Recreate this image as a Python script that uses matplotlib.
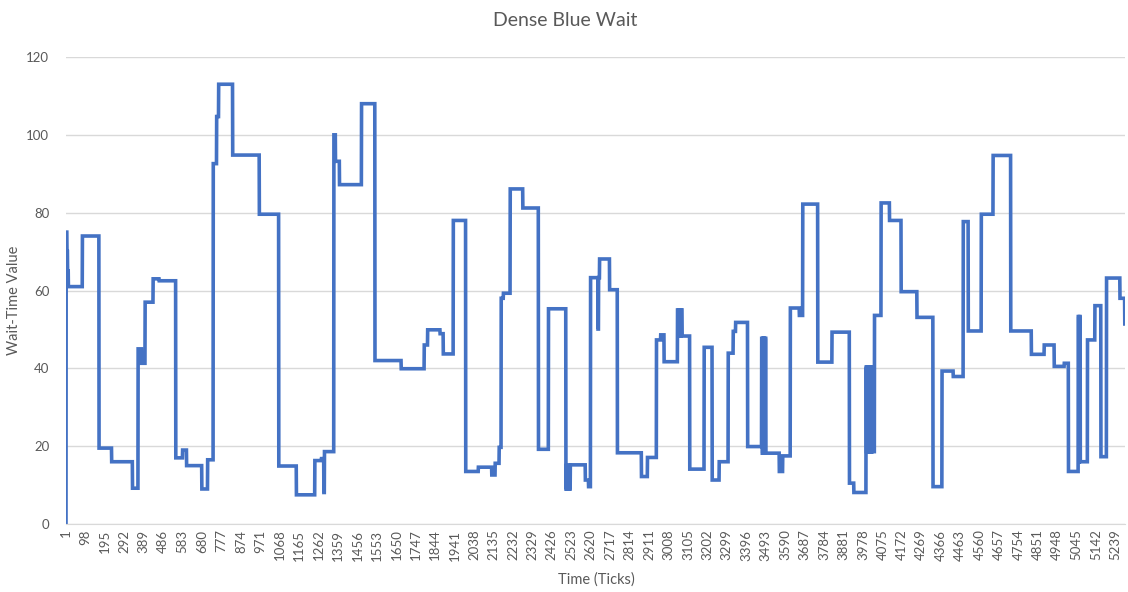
import numpy as np
import matplotlib
matplotlib.use("Agg")
import matplotlib.pyplot as plt

plt.rcParams['font.family'] = ['Lato', 'DejaVu Sans']

# Wait-time series stored as steps: each value holds from its start tick
# until the next start tick.
n_ticks = 5286
step_start = [
    1, 2, 6, 9, 13, 83, 166, 229, 333, 361, 378, 396, 436, 466, 549, 583, 603,
    679, 708, 736, 753, 763, 833, 966, 1063, 1151, 1243, 1276, 1288, 1291,
    1338, 1346, 1366, 1476, 1543, 1674, 1789, 1806, 1868, 1884, 1934, 1996,
    2059, 2126, 2143, 2163, 2173, 2184, 2218, 2281, 2359, 2409,
    2496, 2499, 2502, 2505, 2508, 2511, 2514,
    2518, 2593, 2609, 2619, 2656, 2659, 2664, 2714, 2753, 2873, 2903, 2948,
    2969, 2986,
    3053, 3056, 3059, 3062, 3065, 3068, 3071,
    3076, 3114, 3186, 3226, 3261, 3306, 3331, 3343, 3403,
    3473, 3476, 3479, 3482, 3485, 3488, 3491, 3494,
    3499, 3561, 3578, 3616, 3661, 3678, 3753, 3824, 3911, 3933,
    3994, 3997, 4000, 4003, 4006, 4009, 4012, 4015, 4018, 4021, 4024, 4027, 4030,
    4036, 4069, 4111, 4169, 4248, 4328, 4373, 4429, 4479, 4504, 4569, 4628,
    4716, 4819, 4883, 4933, 4983, 5004,
    5053, 5056, 5059,
    5063, 5099, 5136, 5166, 5194, 5261, 5285,
]
step_value = [
    0, 75, 70, 65, 61, 74, 19.5, 16, 9.2, 45, 41.3, 57, 63, 62.5, 17, 19, 15,
    9, 16.5, 92.6, 104.7, 113, 94.8, 79.6, 14.9, 7.5, 16.3, 16.8, 8.1, 18.6,
    100, 93.2, 87.2, 108, 42, 39.9, 46, 49.9, 48.9, 43.7, 78, 13.5,
    14.6, 12.6, 15.6, 19.7, 58, 59.3, 86.1, 81.2, 19.2, 55.3,
    9, 15, 9, 15, 9, 15, 9,
    15.2, 11.3, 9.6, 63.3, 50.1, 63.3, 68.1, 60.2, 18.3, 12.2, 17.1, 47.3,
    48.6, 41.7,
    55, 48.3, 55, 48.3, 55, 48.3, 55,
    48.3, 14.1, 45.4, 11.3, 16.0, 43.9, 49.5, 51.8, 19.9,
    47.7, 18.2, 47.7, 18.2, 47.7, 18.2, 47.7, 18.2,
    18.2, 13.5, 17.5, 55.5, 53.6, 82.2, 41.6, 49.3, 10.5, 8.1,
    40.3, 18.6, 40.3, 18.6, 40.3, 18.6, 40.3, 18.6, 40.3, 18.6, 40.3, 18.6, 18.6,
    53.6, 82.5, 78, 59.7, 53.1, 9.6, 39.3, 37.9, 77.7, 49.6, 79.6, 94.7,
    49.6, 43.6, 46, 40.5, 41.3, 13.5,
    53.3, 16, 53.3,
    16, 47.3, 56.1, 17.3, 63.2, 58, 51.4,
]

label_step = 97
title = "Dense Blue Wait"
x_title = "Time (Ticks)"
y_title = "Wait-Time Value"

lengths = np.diff(step_start + [n_ticks + 1])
values = np.repeat(step_value, lengths)
ticks = np.arange(1, n_ticks + 1)

fig = plt.figure(figsize=(11.28, 5.92), dpi=100)
ax = fig.add_axes([66 / 1128, 1 - 524 / 592, (1125 - 66) / 1128, (524 - 57) / 592])

ax.plot(ticks, values, color="#4472C4", linewidth=2.6, solid_joinstyle="miter")

ax.set_xlim(1, n_ticks)
ax.set_ylim(0, 120)
ax.set_yticks(np.arange(0, 121, 20))
label_ticks = np.arange(1, n_ticks + 1, label_step)
ax.set_xticks(label_ticks)
ax.set_xticklabels([str(t) for t in label_ticks], rotation=90)

ax.grid(axis="y", color="#D9D9D9", linewidth=1)
ax.set_axisbelow(True)
for side in ("top", "right", "left"):
    ax.spines[side].set_visible(False)
ax.spines["bottom"].set_color("#D9D9D9")
ax.tick_params(axis="both", length=0, colors="#595959", labelsize=9.5)
ax.tick_params(axis="x", pad=4)
ax.tick_params(axis="y", pad=12)

fig.text(565 / 1128, 1 - 21 / 592, title, ha="center", va="center",
         fontsize=14, color="#595959")
fig.text(596 / 1128, 1 - 580 / 592, x_title, ha="center", va="center",
         fontsize=10.5, color="#595959")
fig.text(14 / 1128, 1 - 300 / 592, y_title, ha="center", va="center",
         rotation=90, fontsize=10.5, color="#595959")

fig.savefig("out.png", dpi=100)
